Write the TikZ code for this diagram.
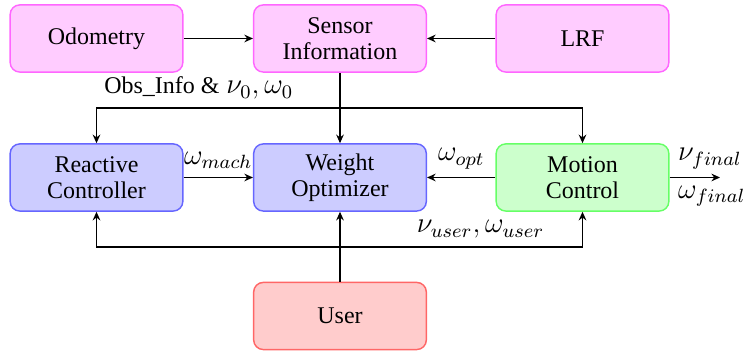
\documentclass[tikz,border=0pt]{standalone}
\usepackage[no-math]{fontspec}
\setmainfont{Liberation Serif}
\usetikzlibrary{arrows.meta}
\definecolor{sensefill}{RGB}{255,204,255}
\definecolor{senseline}{RGB}{255,102,255}
\begin{document}
\begin{tikzpicture}[x=0.417pt, y=0.417pt, line width=0.55pt,
        >={Stealth[length=3.6pt, width=3.2pt, inset=1.2pt]},
        font=\fontsize{10}{10.9}\selectfont,
        block/.style={rounded corners=4pt, line width=0.6pt, align=center,
            minimum width=72pt, minimum height=28pt, inner sep=0pt},
        sensebox/.style={block, draw=senseline, fill=sensefill},
        ctrlbox/.style={block, draw=blue!60, fill=blue!20},
        motionbox/.style={block, draw=green!60, fill=green!20},
        userbox/.style={block, draw=red!60, fill=red!20},
        lbl/.style={font=\fontsize{11.5}{13}\selectfont}]
    \useasboundingbox (0,0) rectangle (747,351);
    % top row
    \node[sensebox] (odo) at (96.5,312.5) {Odometry};
    \node[sensebox] (sens) at (340,312.5) {Sensor\\Information};
    \node[sensebox] (lrf) at (582.5,312.5) {LRF};
    % middle row
    \node[ctrlbox] (react) at (96.5,173.5) {Reactive\\Controller};
    \node[ctrlbox] (weight) at (340,173.5) {Weight\\Optimizer};
    \node[motionbox] (motion) at (582.5,173.5) {Motion\\Control};
    % bottom
    \node[userbox] (user) at (340,35) {User};
    \coordinate (obs) at (340,243);
    \coordinate (ubus) at (340,104);
    \coordinate (out) at (720,173.5);

    \draw[->] (odo) -- (sens);
    \draw[->] (lrf) -- (sens);
    \draw[->] (sens) -- (weight);
    \draw[->] (obs) -| (react.north) node[lbl, pos=0.29, above] {{\fontsize{10}{12}\selectfont Obs\_Info \&} $\nu_0, \omega_0$};
    \draw[->] (obs) -| (motion.north);
    \draw[->] (react) -- (weight) node[lbl, midway, above] {$\omega_{mach}$};
    \draw[->] (motion) -- (weight) node[lbl, midway, above] {$\omega_{opt}$};
    \draw[->] (motion) -- (out) node[lbl, pos=0, above right] {$\nu_{final}$} node[lbl, pos=0, below right] {$\omega_{final}$};
    \draw[->] (user) -- (weight);
    \draw[->] (ubus) -| (react.south);
    \draw[->] (ubus) -| (motion.south) node[lbl, pos=0.29, above] {$\nu_{user}, \omega_{user}$};
\end{tikzpicture}
\end{document}
